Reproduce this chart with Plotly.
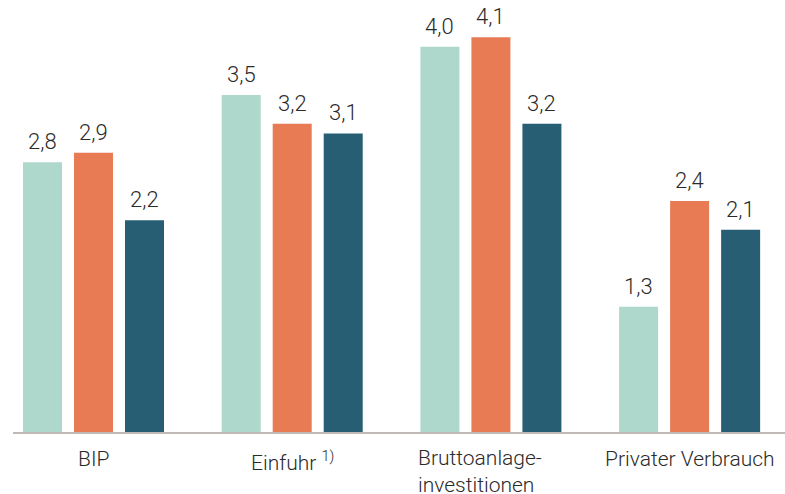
import plotly.graph_objects as go

categories = ["BIP", "Einfuhr <sup>1)</sup>", "Bruttoanlage-<br>investitionen", "Privater Verbrauch"]
series_a = [2.8, 3.5, 4.0, 1.3]
series_b = [2.9, 3.2, 4.1, 2.4]
series_c = [2.2, 3.1, 3.2, 2.1]
labels_a = ["2,8", "3,5", "4,0", "1,3"]
labels_b = ["2,9", "3,2", "4,1", "2,4"]
labels_c = ["2,2", "3,1", "3,2", "2,1"]

colors = ["#aed8cb", "#e87a54", "#275e73"]
offsets = [-0.2567, 0.0, 0.2567]
bar_w = 0.1963
FONT = "Roboto"
TXT = "#2b2b2b"

fig = go.Figure()
xs = list(range(len(categories)))
for vals, labs, col, off in zip([series_a, series_b, series_c],
                                [labels_a, labels_b, labels_c], colors, offsets):
    fig.add_trace(go.Bar(x=[i + off for i in xs], y=vals, width=bar_w,
                         marker=dict(color=col, line=dict(width=0)),
                         hoverinfo="skip", showlegend=False))
    for i, (v, t) in enumerate(zip(vals, labs)):
        fig.add_annotation(x=i + off, y=v, xref="x", yref="y", text=t,
                           showarrow=False, yanchor="bottom", yshift=6,
                           font=dict(family=FONT, size=22, color=TXT, weight=300))

for i, c in enumerate(categories):
    if "<br>" in c:
        fig.add_annotation(x=i + offsets[0] - bar_w / 2, y=0, xref="x", yref="paper",
                           text=c, showarrow=False, xanchor="left", yanchor="top",
                           align="left", yshift=-12, xshift=-4,
                           font=dict(family=FONT, size=21, color=TXT, weight=300))
    else:
        fig.add_annotation(x=i, y=0, xref="x", yref="paper", text=c,
                           showarrow=False, xanchor="center", yanchor="top",
                           yshift=-13,
                           font=dict(family=FONT, size=21, color=TXT, weight=300))

fig.update_layout(
    width=785, height=494,
    margin=dict(l=13, r=0, t=0, b=62),
    paper_bgcolor="white", plot_bgcolor="white",
    barmode="overlay",
    xaxis=dict(range=[-0.4051, 3.48], showgrid=False, zeroline=False,
               showticklabels=False, ticks="", showline=True,
               linecolor="#bfbab8", linewidth=2),
    yaxis=dict(range=[0, 432 / 96.3], showgrid=False, zeroline=False,
               showticklabels=False, ticks="", showline=False),
)
fig.write_html("out.html", config={"displayModeBar": False},
               post_script="document.body.style.margin='0';document.body.style.overflow='hidden';")
